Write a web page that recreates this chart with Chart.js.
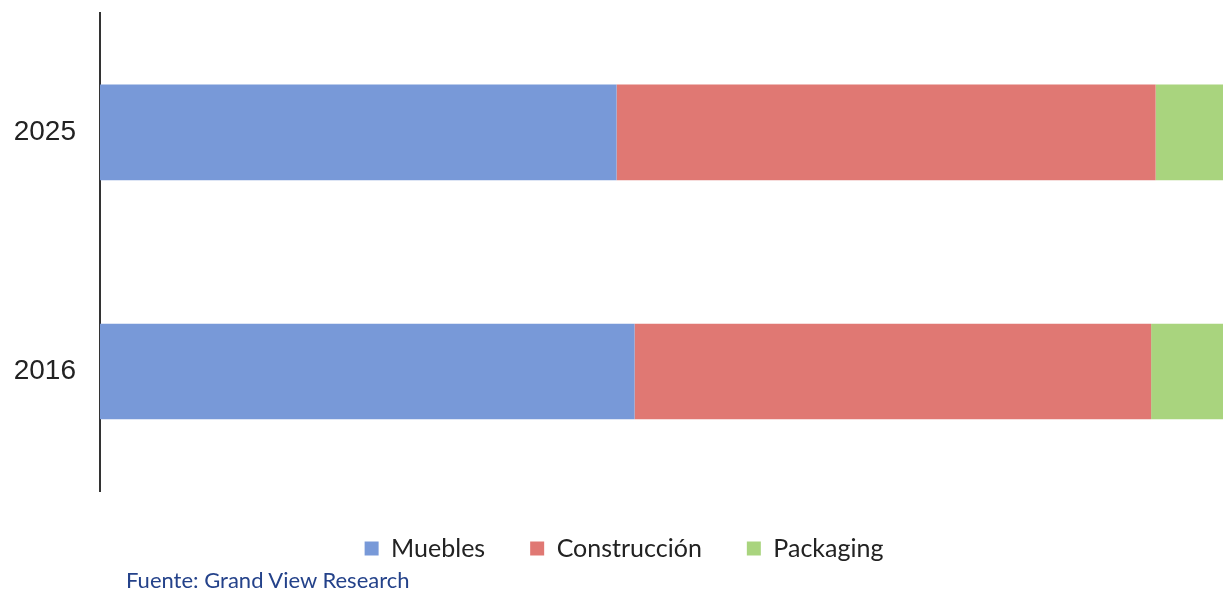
<!DOCTYPE html>
<html>
<head>
<meta charset="utf-8">
<script src="https://cdn.jsdelivr.net/npm/chart.js@4"></script>
<style>
  html, body { margin: 0; padding: 0; background: #fff; }
  #wrap { position: relative; width: 1223px; height: 593px; overflow: hidden; }
  #chart { position: absolute; left: 0; top: -20px; }
  #source {
    position: absolute; left: 126px; top: 566px;
    font-family: Lato, "Open Sans", sans-serif; font-size: 22px; color: #24428a;
  }
</style>
</head>
<body>
<div id="wrap">
  <canvas id="chart" width="1223" height="613"></canvas>
  <div id="source">Fuente: Grand View Research</div>
</div>
<script>
// Cuota de mercado por sector (%)
const years = ['2025', '2016'];
const muebles = [46.0, 47.6];
const construccion = [48.0, 46.0];
const packaging = [6.0, 6.4];

const ctx = document.getElementById('chart');

// la leyenda va un poco desplazada a la derecha
const legendShift = {
    id: 'legendShift',
    afterLayout(chart) {
        if (chart.legend) chart.legend.left += 25;
    }
};

new Chart(ctx, {
    type: 'bar',
    data: {
        labels: years,
        datasets: [
            { label: 'Muebles', data: muebles, backgroundColor: '#7899d8' },
            { label: 'Construcción', data: construccion, backgroundColor: '#e07873' },
            { label: 'Packaging', data: packaging, backgroundColor: '#a9d47e' }
        ]
    },
    options: {
        indexAxis: 'y',
        responsive: false,
        animation: false,
        datasets: {
            bar: { barPercentage: 0.4, categoryPercentage: 1.0 }
        },
        layout: { padding: { top: -18, right: 0, bottom: 22, left: 0 } },
        scales: {
            x: {
                stacked: true,
                min: 0,
                max: 100,
                display: false
            },
            y: {
                stacked: true,
                grid: { display: false },
                border: { display: true, color: '#333', width: 2 },
                ticks: {
                    color: '#222',
                    padding: 16,
                    font: { family: 'Liberation Sans', size: 28 }
                },
                afterFit: function(axis) { axis.width = 100; }
            }
        },
        plugins: {
            legend: {
                position: 'bottom',
                labels: {
                    boxWidth: 14,
                    boxHeight: 14,
                    padding: 45,
                    color: '#222',
                    font: { family: 'Lato', size: 25 }
                }
            },
            tooltip: { enabled: false }
        }
    },
    plugins: [legendShift]
});
</script>
</body>
</html>
